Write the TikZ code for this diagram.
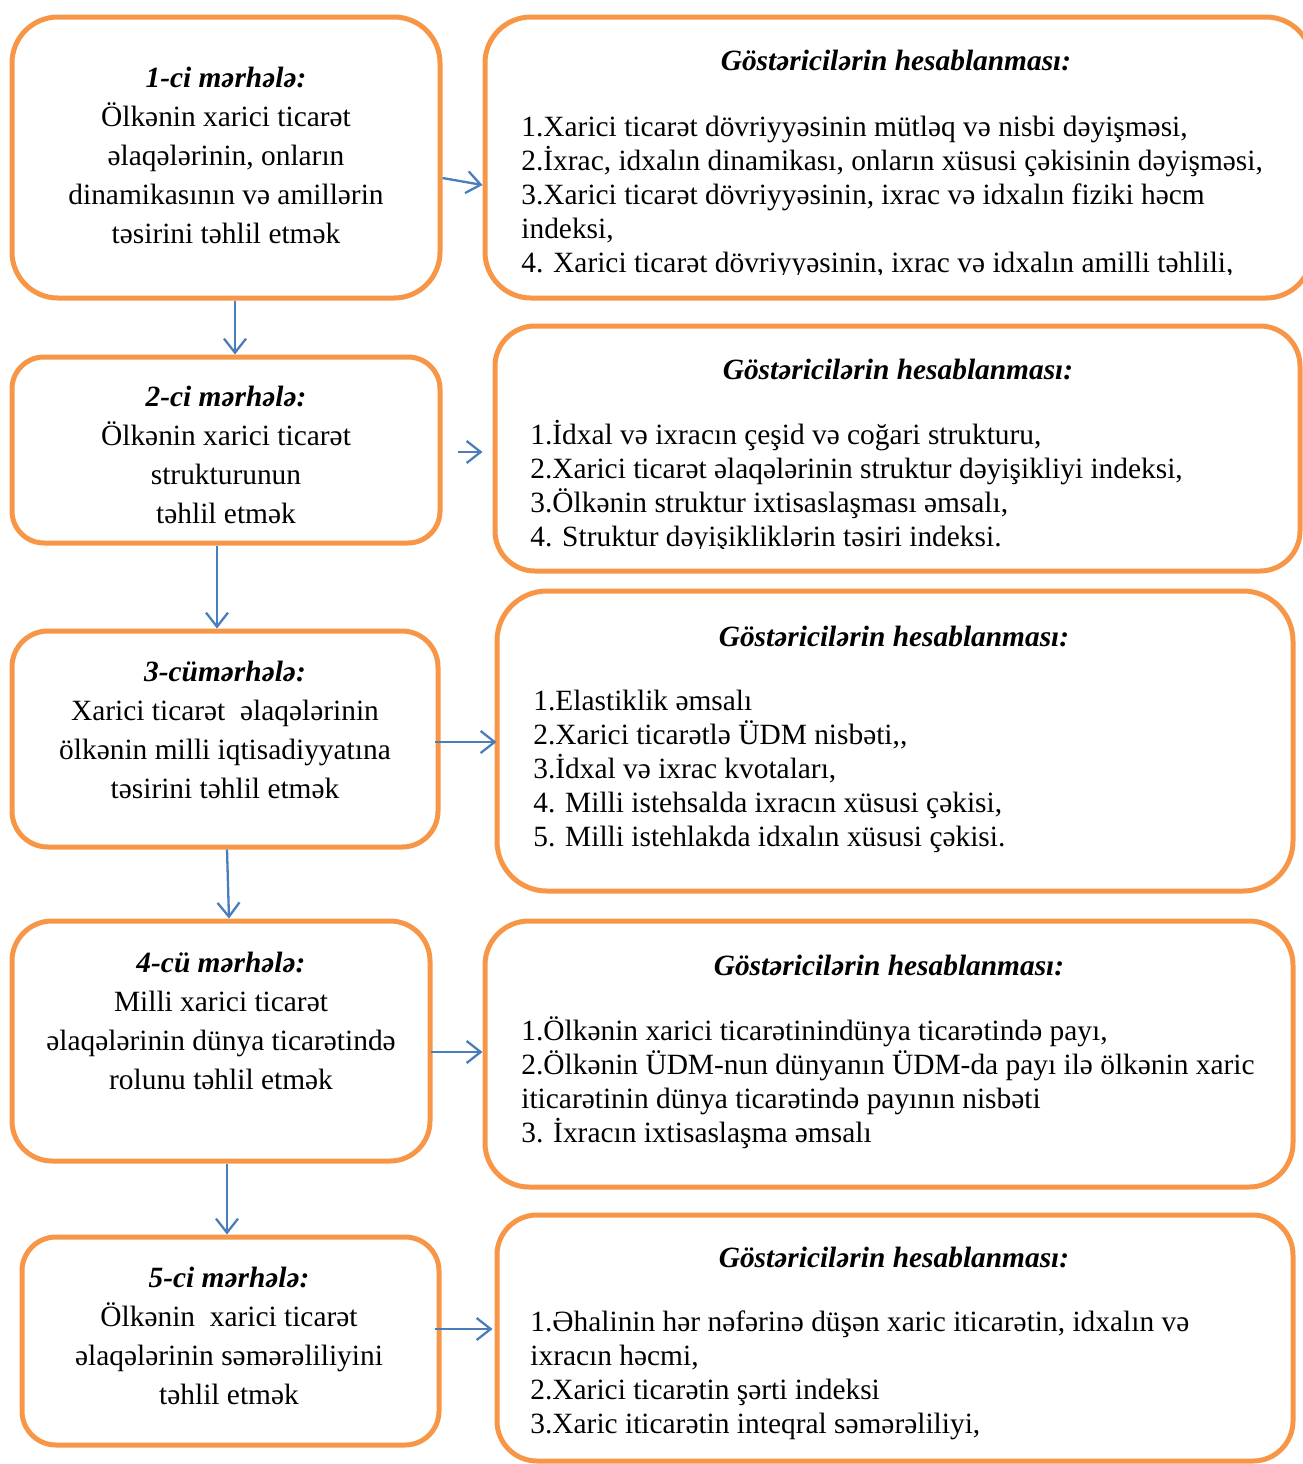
\documentclass[tikz,border=0pt]{standalone}
\usepackage{fontspec}
\setmainfont{Liberation Serif}
\usetikzlibrary{arrows.meta}

\definecolor{boxorange}{HTML}{F79646}
\definecolor{arrowblue}{HTML}{4A7EBB}

\tikzset{
	stagebox/.style={draw=boxorange, line width=2.5pt, rounded corners=#1, inner sep=0pt},
	stagebox/.default=20pt,
	stagetext/.style={align=center, inner sep=0pt, font=\fontsize{14.7}{19.5}\selectfont},
	headtext/.style={inner sep=0pt, font=\fontsize{14.7}{17}\selectfont\bfseries\itshape},
	listtext/.style={align=left, anchor=west, inner sep=0pt, font=\fontsize{14.7}{17}\selectfont},
	flow/.style={arrowblue, line width=1.15pt, -{Straight Barb[length=7pt,width=11pt]}}
}

\begin{document}
\begin{tikzpicture}[x=0.5pt, y=-0.5pt]
		\useasboundingbox (0,0) rectangle (1303,1464);
		
		% stages on the left
		\node[stagebox=23pt, minimum width=214pt, minimum height=140.5pt] (L1) at (226,157.5) {};
		\node[stagebox=16pt, minimum width=214pt, minimum height=93pt] (L2) at (226,450) {};
		\node[stagebox=18pt, minimum width=213pt, minimum height=108pt] (L3) at (225,739) {};
		\node[stagebox=20pt, minimum width=209pt, minimum height=120pt] (L4) at (221,1041) {};
		\node[stagebox=17pt, minimum width=208.5pt, minimum height=104pt] (L5) at (230.5,1341) {};
		
		\node[stagetext] (T1) at (226,155) {{\bfseries\itshape 1-ci mərhələ:}\\Ölkənin xarici ticarət\\əlaqələrinin, onların\\dinamikasının və amillərin\\təsirini təhlil etmək};
		\node[stagetext] (T2) at (226,455) {{\bfseries\itshape 2-ci mərhələ:}\\Ölkənin xarici ticarət\\strukturunun\\təhlil etmək};
		\node[stagetext] (T3) at (225,730) {{\bfseries\itshape 3-cümərhələ:}\\Xarici ticarət\ \ əlaqələrinin\\ölkənin milli iqtisadiyyatına\\təsirini təhlil etmək};
		\node[stagetext] (T4) at (221,1021) {{\bfseries\itshape 4-cü mərhələ:}\\Milli xarici ticarət\\əlaqələrinin dünya ticarətində\\rolunu təhlil etmək};
		\node[stagetext] (T5) at (229,1336) {{\bfseries\itshape 5-ci mərhələ:}\\Ölkənin\ \ xarici ticarət\\əlaqələrinin səmərəliliyini\\təhlil etmək};
		
		% indicator boxes on the right
		\node[stagebox=23pt, minimum width=413.5pt, minimum height=140.5pt] (R1) at (898.5,157.5) {};
		\node[stagebox=20pt, minimum width=402.5pt, minimum height=122.5pt] (R2) at (897.5,448.5) {};
		\node[stagebox=25pt, minimum width=398pt, minimum height=150pt] (R3) at (895,741) {};
		\node[stagebox=22pt, minimum width=404pt, minimum height=133pt] (R4) at (889,1054) {};
		\node[stagebox=20pt, minimum width=398pt, minimum height=123pt] (R5) at (895,1338) {};
		
		\node[headtext] (H1) at (896,60) {Göstəricilərin hesablanması:};
		\node[headtext] (H2) at (898,369) {Göstəricilərin hesablanması:};
		\node[headtext] (H3) at (894,636) {Göstəricilərin hesablanması:};
		\node[headtext] (H4) at (889,965) {Göstəricilərin hesablanması:};
		\node[headtext] (H5) at (894,1257) {Göstəricilərin hesablanması:};
		
		% lists, the first two cut at the bottom
		\begin{scope}
			\clip (480,100) rectangle (1300,274);
			\node[listtext] (B1) at (521,197) {1.Xarici ticarət dövriyyəsinin mütləq və nisbi dəyişməsi,\\2.İxrac, idxalın dinamikası, onların xüsusi çəkisinin dəyişməsi,\\3.Xarici ticarət dövriyyəsinin, ixrac və idxalın fiziki həcm\\indeksi,\\4. Xarici ticarət dövriyyəsinin, ixrac və idxalın amilli təhlili,};
		\end{scope}
		\begin{scope}
			\clip (480,400) rectangle (1300,548);
			\node[listtext] (B2) at (530,486.5) {1.İdxal və ixracın çeşid və coğari strukturu,\\2.Xarici ticarət əlaqələrinin struktur dəyişikliyi indeksi,\\3.Ölkənin struktur ixtisaslaşması əmsalı,\\4. Struktur dəyişikliklərin təsiri indeksi.};
		\end{scope}
		\node[listtext] (B3) at (533,771.5) {1.Elastiklik əmsalı\\2.Xarici ticarətlə ÜDM nisbəti,{},\\3.İdxal və ixrac kvotaları,\\4. Milli istehsalda ixracın xüsusi çəkisi,\\5. Milli istehlakda idxalın xüsusi çəkisi.};
		\node[listtext] (B4) at (521,1082.5) {1.Ölkənin xarici ticarətinindünya ticarətində payı,\\2.Ölkənin ÜDM-nun dünyanın ÜDM-da payı ilə ölkənin xaric\\iticarətinin dünya ticarətində payının nisbəti\\3. İxracın ixtisaslaşma əmsalı};
		\node[listtext] (B5) at (530,1375) {1.Əhalinin hər nəfərinə düşən xaric iticarətin, idxalın və\\ixracın həcmi,\\2.Xarici ticarətin şərti indeksi\\3.Xaric iticarətin inteqral səmərəliliyi,};
		
		% arrows down
		\draw[flow] ([xshift=4.5pt]L1.south) -- ([xshift=4.5pt]L2.north);
		\draw[flow] ([xshift=-4.5pt]L2.south) -- ([xshift=-4pt]L3.north);
		\draw[flow] ([xshift=1pt]L3.south) -- ([xshift=4pt]L4.north);
		\draw[flow] ([xshift=3pt]L4.south) -- ([xshift=-1.75pt]L5.north);
		
		% arrows across
		\draw[flow] ([yshift=-10.25pt]L1.east) -- ([yshift=-13.75pt]R1.west);
		\draw[flow] ([xshift=7.5pt, yshift=-1pt]L2.east) -- ([xshift=-5pt, yshift=-1.75pt]R2.west);
		\draw[flow] ([xshift=-3pt, yshift=-1.5pt]L3.east) -- ([xshift=1pt, yshift=-0.5pt]R3.west);
		\draw[flow] ([xshift=-1pt, yshift=-5.5pt]L4.east) -- ([yshift=1pt]R4.west);
		\draw[flow] ([xshift=-3.5pt, yshift=6pt]L5.east) -- ([xshift=-1pt, yshift=4.5pt]R5.west);
		
\end{tikzpicture}
\end{document}
